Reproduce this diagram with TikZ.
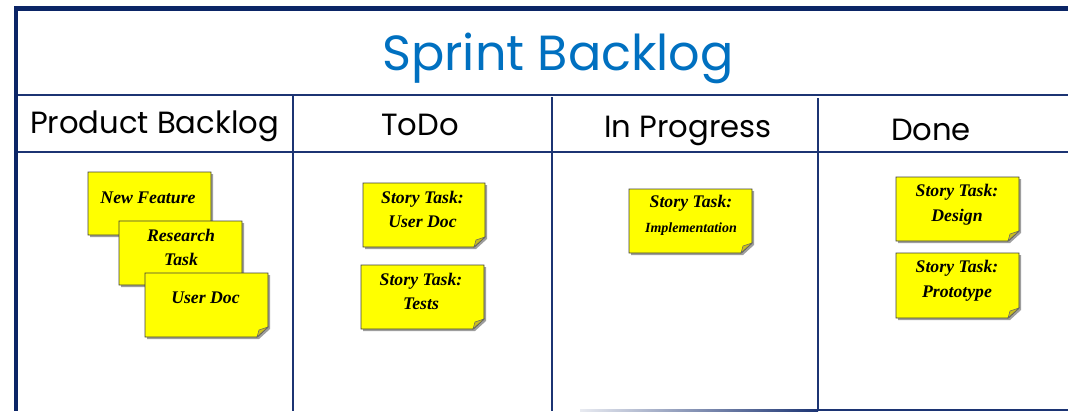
\documentclass[tikz,border=0pt]{standalone}
\usepackage{fontspec}
\newfontfamily\handfont{Poppins}
\newfontfamily\notefont{Liberation Serif}[BoldItalicFont={* Bold Italic}]
\usetikzlibrary{calc}
\definecolor{frameblue}{HTML}{0B2566}
\definecolor{linenavy}{HTML}{1C3473}
\definecolor{titleblue}{HTML}{0070C0}
\definecolor{noteyellow}{HTML}{FFFF00}
\definecolor{foldyellow}{HTML}{C9BE1E}
\tikzset{
  frameline/.style={draw=frameblue, line width=3.4pt},
  gridline/.style={draw=linenavy, line width=1.5pt},
  headtext/.style={font=\handfont\fontsize{23}{26}\selectfont, anchor=base, inner sep=0pt},
  titletext/.style={font=\handfont\fontsize{37}{40}\selectfont, text=titleblue, anchor=base, inner sep=0pt},
  notetext/.style={font=\notefont\bfseries\itshape\fontsize{13.3}{18.5}\selectfont, align=center, inner sep=0pt},
  notebody/.style={fill=noteyellow, draw=black!75, line width=0.7pt},
  noteshadow/.style={fill=black!38},
  notefold/.style={fill=foldyellow, draw=black!60, line width=0.4pt},
}
% sticky note: left, top, right, bottom (px); folded lower-right corner
\newcommand\stickynote[4]{%
  \fill[noteshadow] (#1+2,#2+2) -- (#3+2,#2+2) -- (#3+2,#4+2-10) -- (#3+2-11,#4+2) -- (#1+2,#4+2) -- cycle;
  \path[notebody] (#1,#2) -- (#3,#2) -- (#3,#4-10) -- (#3-11,#4) -- (#1,#4) -- cycle;
  \path[notefold] (#3,#4-10) -- (#3-11,#4) -- (#3-9,#4-7) -- cycle;
}
\begin{document}
\begin{tikzpicture}[x=0.75pt, y=-0.75pt]
\useasboundingbox (0,0) rectangle (1068,411);

% board frame and column grid
\coordinate (tl) at (16,8.5);
\coordinate (tr) at (1068,8.5);
\coordinate (bl) at (16,411);
\coordinate (h1l) at (18,95);   \coordinate (h1r) at (1068,95);
\coordinate (h2l) at (18,152);  \coordinate (h2r) at (1068,152);
\coordinate (v1t) at (293,95);  \coordinate (v1b) at (293,411);
\coordinate (v2t) at (552,97);  \coordinate (v2b) at (552,411);
\coordinate (v3t) at (818,98);  \coordinate (v3b) at (818,411);
\draw[gridline] (h1l) -- (h1r);
\draw[gridline] (h2l) -- (h2r);
\draw[gridline] (v1t) -- (v1b);
\draw[gridline] (v2t) -- (v2b);
\draw[gridline] (v3t) -- (v3b);
\shade[left color=linenavy!10, right color=linenavy] (580,409) rectangle (818,411);
\fill[linenavy] (818,409) rectangle (1068,411);
\draw[frameline] (14,8.5) -- (tr);
\draw[frameline] (tl) -- (bl);

% title and column headings
\node[titletext] (title) at (558,70) {Sprint Backlog};
\node[headtext] (colpb) at (154.5,133) {Product Backlog};
\node[headtext] (coltodo) at (420,135) {ToDo};
\node[headtext] (colprog) at (688,137) {In Progress};
\node[headtext] (coldone) at (931,140) {Done};

% product backlog stack
\stickynote{88}{172}{211}{235}
\node[notetext] (nf) at (148,198) {New Feature};
\stickynote{119}{221}{242}{285}
\node[notetext] (rt) at (181,247.5) {Research\\Task};
\stickynote{145}{273}{268}{337}
\node[notetext] (ud) at (205.5,298) {User Doc};

% to do
\stickynote{363}{183}{485}{247}
\node[notetext] (stud) at (422.5,209.5) {Story Task:\\User Doc};
\stickynote{361}{265}{484}{329}
\node[notetext] (stts) at (421,291.5) {Story Task:\\Tests};

% in progress
\stickynote{629}{189}{752}{253}
\node[notetext] (stim) at (691,215.5) {Story Task:\\{\fontsize{10.5}{18.5}\selectfont Implementation}};

% done
\stickynote{896}{177}{1019}{241}
\node[notetext] (stde) at (957,204.5) {Story Task:\\Design};
\stickynote{896}{253}{1019}{318}
\node[notetext] (stpr) at (957,280.5) {Story Task:\\Prototype};
\end{tikzpicture}
\end{document}
